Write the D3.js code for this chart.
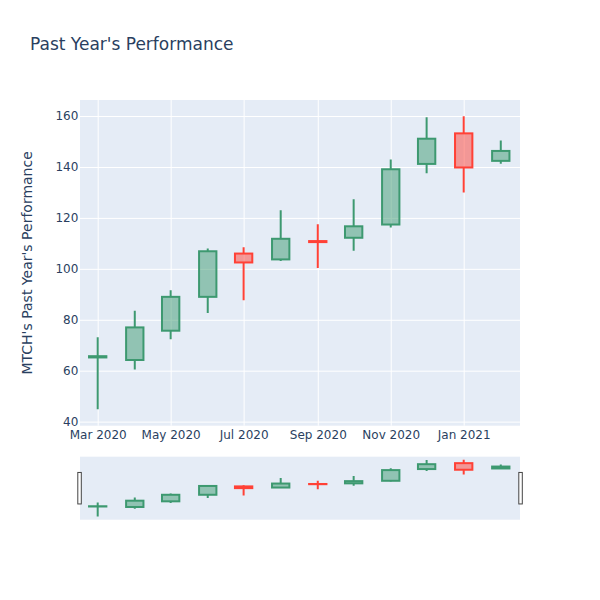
<!DOCTYPE html>
<html>
<head>
<meta charset="utf-8">
<script src="https://cdn.jsdelivr.net/npm/d3@7"></script>
<style>
  html, body { margin: 0; padding: 0; background: #fff; }
  svg { display: block; font-family: "DejaVu Sans", sans-serif; }
</style>
</head>
<body>
<svg id="chart" width="600" height="600"></svg>
<script>
// ---- data (monthly OHLC) ----
const dates = ["2020-03-01","2020-04-01","2020-05-01","2020-06-01","2020-07-01","2020-08-01",
               "2020-09-01","2020-10-01","2020-11-01","2020-12-01","2021-01-01","2021-02-01"];
const openVals  = [65.2, 64.2, 75.7, 89.0, 106.0, 103.7, 110.9, 112.2, 117.4, 141.2, 153.2, 142.4];
const highVals  = [73.1, 83.5, 91.6, 108.0, 108.5, 123.0, 117.5, 127.3, 142.9, 159.5, 159.9, 150.4];
const lowVals   = [44.9, 60.5, 72.3, 82.7, 87.7, 103.1, 100.3, 107.1, 116.2, 137.5, 130.0, 141.3];
const closeVals = [65.7, 77.0, 89.0, 106.9, 102.5, 111.8, 110.5, 116.7, 139.1, 151.1, 139.8, 146.3];

const xTickDates  = ["2020-03-01","2020-05-01","2020-07-01","2020-09-01","2020-11-01","2021-01-01"];
const xTickLabels = ["Mar 2020","May 2020","Jul 2020","Sep 2020","Nov 2020","Jan 2021"];
const yTicks = [40, 60, 80, 100, 120, 140, 160];

const titleText = "Past Year's Performance";
const yTitleText = "MTCH's Past Year's Performance";

// ---- layout ----
const W = 600, H = 600;
const plot = { left: 80, right: 520, top: 100, bottom: 425.7 };
const slider = { top: 456.7, bottom: 519.7 };
const incColor = "#3D9970", decColor = "#FF4136";
const incFill = "rgba(61,153,112,0.5)", decFill = "rgba(255,65,54,0.5)";
const textColor = "#2a3f5f";
const bg = "#E5ECF6";

const data = dates.map((d, i) => ({
  date: new Date(d + "T00:00:00Z"),
  open: openVals[i], high: highVals[i], low: lowVals[i], close: closeVals[i]
}));

const DAY = 86400000;
const x = d3.scaleUtc()
  .domain([new Date(Date.UTC(2020, 2, 1) - 14.8 * DAY), new Date(Date.UTC(2021, 0, 1) + 47.07 * DAY)])
  .range([plot.left, plot.right]);
const yDomain = [38.4, 166.3];
const y = d3.scaleLinear().domain(yDomain).range([plot.bottom, plot.top]);
const ys = d3.scaleLinear().domain(yDomain).range([slider.bottom, slider.top]);

const halfBox = 7.25 * DAY;

const svg = d3.select("#chart");

// clip paths
const defs = svg.append("defs");
defs.append("clipPath").attr("id", "clipMain").append("rect")
  .attr("x", plot.left).attr("y", plot.top)
  .attr("width", plot.right - plot.left).attr("height", plot.bottom - plot.top);
defs.append("clipPath").attr("id", "clipSlider").append("rect")
  .attr("x", plot.left).attr("y", slider.top)
  .attr("width", plot.right - plot.left).attr("height", slider.bottom - slider.top);

// main background
svg.append("rect").attr("x", plot.left).attr("y", plot.top)
  .attr("width", plot.right - plot.left).attr("height", plot.bottom - plot.top)
  .attr("fill", bg);

// gridlines via axes
const yGrid = svg.append("g").attr("transform", `translate(${plot.left},0)`)
  .call(d3.axisLeft(y).tickValues(yTicks).tickSize(-(plot.right - plot.left)).tickFormat(""));
yGrid.select(".domain").remove();
yGrid.selectAll("line").attr("stroke", "#fff").attr("stroke-width", 1);

const xTickVals = xTickDates.map(d => new Date(d + "T00:00:00Z"));
const xGrid = svg.append("g").attr("transform", `translate(0,${plot.bottom})`)
  .call(d3.axisBottom(x).tickValues(xTickVals).tickSize(-(plot.bottom - plot.top)).tickFormat(""));
xGrid.select(".domain").remove();
xGrid.selectAll("line").attr("stroke", "#fff").attr("stroke-width", 1);

// candles
function drawCandles(g, yScale) {
  const c = g.selectAll("g.candle").data(data).join("g").attr("class", "candle");
  c.each(function(d) {
    const gg = d3.select(this);
    const up = d.close >= d.open;
    const col = up ? incColor : decColor;
    const fill = up ? incFill : decFill;
    const cx = x(d.date);
    const x0 = x(new Date(d.date.getTime() - halfBox));
    const x1 = x(new Date(d.date.getTime() + halfBox));
    const yTop = yScale(Math.max(d.open, d.close));
    const yBot = yScale(Math.min(d.open, d.close));
    gg.append("line").attr("x1", cx).attr("x2", cx)
      .attr("y1", yScale(d.high)).attr("y2", yTop)
      .attr("stroke", col).attr("stroke-width", 2);
    gg.append("line").attr("x1", cx).attr("x2", cx)
      .attr("y1", yBot).attr("y2", yScale(d.low))
      .attr("stroke", col).attr("stroke-width", 2);
    gg.append("rect").attr("x", x0).attr("y", yTop)
      .attr("width", x1 - x0).attr("height", Math.max(0, yBot - yTop))
      .attr("fill", fill).attr("stroke", col).attr("stroke-width", 2);
  });
}
drawCandles(svg.append("g").attr("clip-path", "url(#clipMain)"), y);

// y tick labels
const yAx = svg.append("g").attr("transform", `translate(${plot.left - 1.7},0)`)
  .call(d3.axisLeft(y).tickValues(yTicks).tickSize(0).tickPadding(0));
yAx.select(".domain").remove();
yAx.selectAll("text").attr("fill", textColor).style("font-size", "12px")
  .style("font-family", "DejaVu Sans, sans-serif");

// x tick labels
const xAx = svg.append("g").attr("transform", `translate(0,${plot.bottom})`)
  .call(d3.axisBottom(x).tickValues(xTickVals).tickFormat((d, i) => xTickLabels[i]).tickSize(0).tickPadding(0));
xAx.select(".domain").remove();
xAx.selectAll("text").attr("fill", textColor).style("font-size", "12px")
  .style("font-family", "DejaVu Sans, sans-serif")
  .attr("dy", null).attr("y", 13.8);

// title
svg.append("text").attr("x", 30).attr("y", 50)
  .attr("fill", textColor).style("font-size", "17px").text(titleText);

// y axis title
svg.append("text")
  .attr("transform", `translate(32,${(plot.top + plot.bottom) / 2}) rotate(-90)`)
  .attr("text-anchor", "middle").attr("fill", textColor).style("font-size", "14px")
  .text(yTitleText);

// range slider
svg.append("rect").attr("x", plot.left).attr("y", slider.top)
  .attr("width", plot.right - plot.left).attr("height", slider.bottom - slider.top)
  .attr("fill", bg);
drawCandles(svg.append("g").attr("clip-path", "url(#clipSlider)"), ys);

// grabbers
const sh = slider.bottom - slider.top;
[plot.left - 2.2, plot.right - 1.2].forEach(gx => {
  svg.append("rect").attr("x", gx).attr("y", slider.top + sh / 4)
    .attr("width", 3.5).attr("height", sh / 2)
    .attr("fill", "#fff").attr("stroke", "#444").attr("stroke-width", 1);
});
</script>
</body>
</html>
